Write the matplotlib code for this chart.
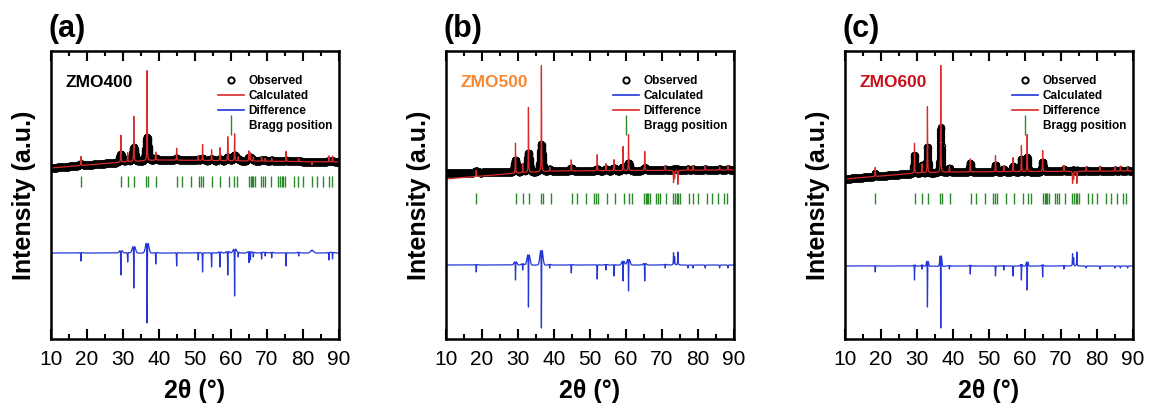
import numpy as np
import matplotlib.pyplot as plt
from matplotlib.lines import Line2D
from matplotlib.ticker import MultipleLocator

plt.rcParams['font.family'] = ['Liberation Sans', 'DejaVu Sans']

# 2theta grids: fine grid for the fitted lines, coarser one for the measured points
tt_fine = np.arange(10, 90.0001, 0.005)
tt_obs = np.arange(10, 90.0001, 0.02)

# Bragg reflections (same phase in all samples)
bragg_pos = [18.3, 29.35, 31.3, 33.1, 36.4, 36.9, 39.1, 44.9, 46.3, 48.9, 51.0, 51.7,
             52.3, 54.8, 56.9, 59.4, 60.8, 61.7, 65.1, 65.5, 65.8, 66.2, 66.7, 68.3,
             69.0, 69.4, 71.0, 73.1, 73.6, 74.1, 74.5, 75.0, 77.6, 78.7, 79.9, 82.4,
             84.0, 85.6, 87.2, 88.1]

# background knots (2theta, intensity)
bg_x = [10, 30, 40, 90]
obs_bg_a = [171, 177, 179, 177]
calc_bg_a = [171, 177, 179, 177]
obs_bg_b = [166, 167, 168, 169]
calc_bg_b = [160, 166, 168, 169]
obs_bg_c = [160, 166, 167, 168]
calc_bg_c = [160, 166, 167, 168]

# ZMO400 peak table
pos_a = [18.3, 29.4, 31.3, 33.0, 36.7, 39.1, 44.9, 50.9, 52.1, 54.6, 56.9, 59.1, 61.0,
         62.0, 65.0, 65.4, 66.2, 68.5, 69.5, 71.3, 75.3, 78.8, 82.5, 87.2, 88.2]
calc_a = [9, 27, 9, 45, 90, 8, 12, 4, 16, 11, 13, 24, 27, 4, 10, 8, 4, 4, 3, 3, 10, 3, -3, 6, 6]
obs_a = [2, 8, 3, 14, 24, 2, 2, 1, 2, 2, 2, 4, 6, 2, 3, 2, 1, 1, 1, 1, 1, 1, 0, 1, 1]
dip_a = [8, 22, 9, 35, 70, 11, 13, 7, 19, 14, 14, 22, 43, 4, 10, 8, 4, 6, 3, 5, 13, 3, -2, 7, 6]
hump_a = [1, 4, 1, 10, 16, 1, 1, 1, 1, 1, 2, 3, 7, 1, 2, 1, 1, 1, 1, 1, 1, 1, 3, 1, 1]

# ZMO500 peak table
pos_b = [18.4, 29.3, 31.3, 32.9, 36.5, 38.8, 44.8, 52.0, 54.4, 56.7, 59.2, 60.7, 65.2,
         70.9, 73.2, 73.5, 74.4, 77.2, 78.6, 82.0, 86.0, 88.3]
calc_b = [6, 30, 9, 65, 106, 4, 11, 16, 7, 11, 24, 36, 19, 5, -12, -8, -14, 3, 4, 4, 3, 4]
obs_b = [2, 12, 5, 19, 27, 2, 3, 2, 2, 3, 4, 8, 3, 1, 1, 1, 1, 1, 1, 1, 1, 1]
dip_b = [7, 15, 5, 42, 63, 3, 8, 14, 5, 11, 16, 26, 16, 3, -12, -8, -13, 3, 3, 3, 3, 3]
hump_b = [1, 5, 2, 16, 23, 1, 1, 1, 1, 1, 6, 9, 3, 1, 0, 0, 0, 0, 0, 0, 0, 0]

# ZMO600 peak table
pos_c = [18.4, 29.3, 31.4, 32.9, 36.6, 39.0, 44.8, 51.8, 54.1, 56.7, 59.0, 60.6, 64.9,
         70.8, 73.2, 73.5, 74.4, 77.0, 80.8, 85.0, 86.5, 88.5]
calc_c = [9, 30, 9, 66, 107, 6, 13, 16, 6, 14, 26, 37, 21, 6, -12, -8, -12, 4, 5, 4, 5, 4]
obs_c = [3, 18, 8, 26, 45, 4, 9, 7, 3, 6, 13, 15, 10, 2, 1, 1, 1, 1, 1, 1, 1, 1]
dip_c = [6, 14, 3, 41, 62, 3, 8, 10, 4, 10, 14, 24, 11, 3, -12, -8, -14, 2, 3, 2, 2, 2]
hump_c = [1, 3, 2, 12, 23, 1, 2, 1, 1, 1, 4, 9, 3, 1, 0, 0, 0, 0, 0, 0, 0, 0]

samples = ['ZMO400', 'ZMO500', 'ZMO600']
sample_colors = ['black', '#F7862F', '#C8101A']
panel_tags = ['(a)', '(b)', '(c)']
legend_labels = ['Observed', 'Calculated', 'Difference', 'Bragg position']

RED = '#DC2A2A'
BLUE = '#2437D6'
GREEN = '#2A8A2A'

panels = [
    dict(pos=pos_a, calc=calc_a, obs=obs_a, dip=dip_a, hump=hump_a, obs_bg=obs_bg_a,
         calc_bg=calc_bg_a, width=0.9, diff0=86, tick=(152, 163), leg=(RED, BLUE)),
    dict(pos=pos_b, calc=calc_b, obs=obs_b, dip=dip_b, hump=hump_b, obs_bg=obs_bg_b,
         calc_bg=calc_bg_b, width=0.8, diff0=74, tick=(135, 146), leg=(BLUE, RED)),
    dict(pos=pos_c, calc=calc_c, obs=obs_c, dip=dip_c, hump=hump_c, obs_bg=obs_bg_c,
         calc_bg=calc_bg_c, width=0.5, diff0=73, tick=(135, 146), leg=(BLUE, RED)),
]


def profile(x, pos, amp, fwhm, shape):
    d = (x[:, None] - np.asarray(pos)[None, :]) / fwhm
    if shape == 'lorentz':
        p = 1.0 / (1.0 + (2 * d) ** 2)
    else:
        p = np.exp(-4 * np.log(2) * d ** 2)
    return p @ np.asarray(amp, dtype=float)


fig = plt.figure(figsize=(11.51, 4.09), dpi=100)
lefts = [51, 446, 845]

for i, p in enumerate(panels):
    ax = fig.add_axes([lefts[i] / 1151, 70 / 409, 288 / 1151, 288 / 409])

    obs = np.interp(tt_obs, bg_x, p['obs_bg']) + profile(tt_obs, p['pos'], p['obs'], p['width'], 'gauss')
    calc = np.interp(tt_fine, bg_x, p['calc_bg']) + profile(tt_fine, p['pos'], p['calc'], 0.1, 'lorentz')
    sharp = np.asarray(p['dip']) + np.asarray(p['hump'])
    diff = (p['diff0'] + profile(tt_fine, p['pos'], p['hump'], p['width'], 'gauss')
            - profile(tt_fine, p['pos'], sharp, 0.1, 'lorentz'))

    ax.plot(tt_obs, obs, ls='none', marker='o', ms=4.2, mfc='none', mec='black', mew=1.0)
    ax.plot(tt_fine, calc, color=RED, lw=0.9)
    ax.plot(tt_fine, diff, color=BLUE, lw=0.9)
    ax.vlines(bragg_pos, *p['tick'], color=GREEN, lw=1.0)

    ax.set_xlim(10, 90)
    ax.set_ylim(0, 288)
    ax.set_yticks([])
    ax.xaxis.set_major_locator(MultipleLocator(10))
    ax.xaxis.set_minor_locator(MultipleLocator(5))
    ax.tick_params(axis='x', which='both', direction='in', top=True, width=1.5,
                   labelsize=15, pad=8)
    ax.tick_params(axis='x', which='major', length=7)
    ax.tick_params(axis='x', which='minor', length=3.8)
    for s in ax.spines.values():
        s.set_linewidth(1.8)

    ax.set_xlabel('2θ (°)', fontsize=18, fontweight='bold', labelpad=7)
    ax.set_ylabel('Intensity (a.u.)', fontsize=18, fontweight='bold', labelpad=11)

    ax.text(-0.01, 1.025, panel_tags[i], transform=ax.transAxes, fontsize=22,
            fontweight='bold', ha='left', va='bottom')
    ax.text(0.052, 0.889, samples[i], transform=ax.transAxes, fontsize=12.5,
            fontweight='bold', color=sample_colors[i], ha='left', va='center')

    c_calc, c_diff = p['leg']
    handles = [
        Line2D([], [], ls='none', marker='o', ms=4.5, mfc='none', mec='black', mew=1.4),
        Line2D([], [], color=c_calc, lw=1.2),
        Line2D([], [], color=c_diff, lw=1.2),
        Line2D([], [], ls='none', marker='|', ms=14, mec=GREEN, mew=1.0),
    ]
    ax.legend(handles, legend_labels, loc='upper right', bbox_to_anchor=(1.0, 0.94),
              frameon=False, prop=dict(weight='bold', size=8.5), handlelength=2.2,
              handletextpad=0.4, labelspacing=0.25, borderaxespad=0.2)

fig.savefig('out.png', dpi=100)
